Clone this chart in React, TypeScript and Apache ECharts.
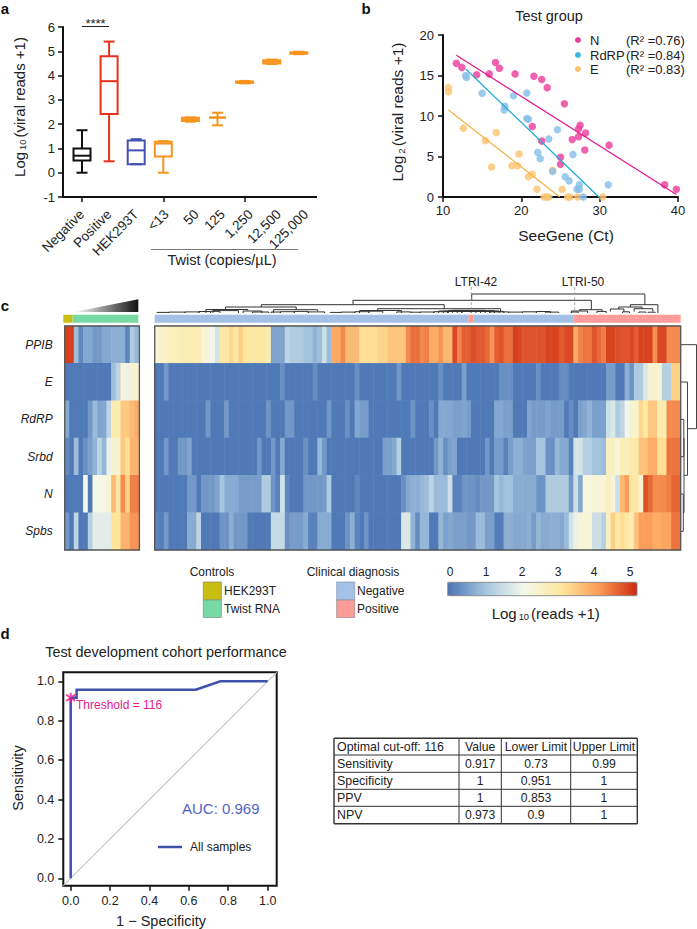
import React, { useEffect, useRef } from "react";
import * as echarts from "echarts";

const F = "Liberation Sans";

// Panel a
const boxCategories = ["Negative", "Positive", "HEK293T", "<13", "50", "125", "1,250", "12,500", "125,000"];
const boxLabelShift = [0, 0, 0, 3, 6, 5, 6, 7, 7];
const boxMin = [0, 0.47, 0.35, 0, 2.1, 1.95, 3.68, 4.48, 4.88];
const boxQ1 = [0.5, 2.42, 0.35, 0.67, 2.13, 2.27, 3.7, 4.5, 4.9];
const boxMedian = [0.7, 3.77, 0.92, 1.2, 2.2, 2.27, 3.73, 4.57, 4.93];
const boxQ3 = [1.0, 4.8, 1.33, 1.27, 2.26, 2.27, 3.76, 4.63, 4.96];
const boxMax = [1.75, 5.4, 1.38, 1.3, 2.28, 2.47, 3.78, 4.66, 4.98];
const boxColors = ["#111111", "#e5321b", "#4252b2", "#f7941d", "#f7941d", "#f7941d", "#f7941d", "#f7941d", "#f7941d"];

// Panel b
const ptsN = [[11.7,16.5],[12.4,16],[14.3,15.1],[15.9,15.2],[16.7,16.6],[17.2,15.9],[19.2,15.2],[21.6,14.9],[22.6,14.5],[23.3,13.5],[25.5,11.5],[21.4,8.7],[22.6,6.9],[25,4.9],[25,4.05],[26.5,7.1],[27.3,8.4],[27.5,8.85],[27.3,7.45],[28.2,7.9],[28.1,5.8],[31.2,6.4],[38.3,1.5],[39.8,0.95]];
const ptsRdRP = [[12.9,15],[13,14.75],[15,12.8],[17.9,11.2],[17.8,10.75],[19,12.5],[20.7,12.85],[20.7,9.7],[20.9,9.6],[24.6,8.3],[23.5,7.15],[22.1,5.5],[22.4,4.75],[24,3.15],[26.6,5.25],[25.6,2.5],[26.1,2],[27.4,1.5],[27.1,0.95],[27.4,0.95],[27.9,0],[31.1,1.5]];
const ptsE = [[10.7,13.5],[10.7,13],[12.6,8.5],[15.4,6.95],[16.8,7.95],[16.2,3.7],[19.7,5.3],[18.8,3.85],[19.5,3.85],[20.9,2.5],[21.4,2.8],[22,0.95],[24,3.3],[22.9,0],[23.2,0],[23.5,0],[25.2,0.95],[25.9,0],[26.2,0],[27.2,0],[30.4,0]];
const fitN = [[11.7,17.5],[39.8,0.3]];
const fitRdRP = [[12.9,15.8],[29.9,0]];
const fitE = [[10.7,10.75],[24.9,0]];
const scatterLegend = [["N","(R² =0.76)"],["RdRP","(R² =0.84)"],["E","(R² =0.83)"]];

// Panel c: [run length, log10 reads] per gene, read left to right
const genes = ["PPIB", "E", "RdRP", "Srbd", "N", "Spbs"];
const leftPPIB = [[2,5],[1,0.9],[1,0.2],[2,0.6],[2,0.4],[2,0.6],[3,0.7],[1,0.15],[1,1.1],[1,0.8]];
const leftE = [[10,0],[1,0.9],[1,1.3],[1,2.3],[1,1.9],[2,2.4]];
const leftRdRP = [[1,0.6],[4,0],[1,0.4],[1,0.85],[1,0.55],[1,0.6],[1,1.3],[2,2.8],[2,3.5],[1,3.7],[1,3.9]];
const leftSrbd = [[1,0.2],[1,0],[1,0.9],[1,0],[1,0.3],[1,0.5],[1,0.75],[1,1.3],[1,0.8],[1,1.9],[2,2.4],[1,3.5],[1,3.2],[2,3.8]];
const leftN = [[4,0],[1,2],[1,0],[3,2.1],[1,2.3],[1,3.7],[1,3],[1,4.3],[1,3.4],[2,4.4]];
const leftSpbs = [[1,0.4],[1,0],[1,1.3],[2,0],[1,1.2],[4,1.8],[2,3.1],[2,3.8],[2,4.2]];

const rightPPIB = [[1,2.3],[2,2.5],[3,2.7],[4,2.8],[2,2.3],[1,2],[1,1.6],[2,3],[1,3.3],[1,3.05],[1,3.4],[1,3.1],[4,3],[1,2.8],[3,0.55],[1,1.3],[3,1.1],[2,0.95],[1,0.75],[1,0.9],[1,1.5],[1,0.85],[2,3.95],[1,4.3],[3,3.7],[4,3.2],[2,3.35],[4,3.55],[1,4.3],[2,4.55],
  [1,4.3],[1,4.4],[2,3.9],[1,4.2],[2,3.75],[1,4.9],[1,4.35],[2,4.7],[1,4.85],[2,4.75],[1,4.6],[1,4.2],[1,4.7],[1,4.8],[2,4.55],[1,5],[1,4.9],[5,4.8],[3,4.95],[1,4.75],[2,4.9],[1,3.9],[1,4.35],[2,4.5],[1,4.8],[1,4.6],[1,4.4],[2,4.95],[1,4.85],[2,4.8],[1,4.9],[1,4.7],[3,4.95],[1,4.25],[2,4.9],[3,4.3]];
const rightE = [[2,0],[1,0.4],[24,0],[1,0.3],[6,0],[1,0.25],[8,0],[1,0.3],[8,0],[1,0.4],[8,0],[1,0.3],[4,0],[1,0.5],[7,0],[3,0.3],[5,0],[1,0.3],[4,0],[2,0.25],[8,0],[2,0.45],[2,0],[1,0.7],[1,0.35],[2,1.1],[1,1.7],[3,2.4],[2,1.2],[2,3.4]];
const rightRdRP = [[11,0],[1,0.4],[3,0],[1,0.4],[8,0],[1,0.35],[3,0],[2,0.4],[7,0],[1,0.4],[3,0],[1,0.3],[1,0],[1,0.6],[2,0.45],[9,0],[1,0.35],[3,0],[1,0.3],[1,0],[3,0.6],[2,0.5],[1,0.55],[1,0.45],[5,0],[2,0.6],[2,0.5],[3,0],[1,0.55],[3,0.45],[1,0.55],[3,0.45],[1,0],[1,0.25],[1,0],[1,0.5],[1,0.6],[1,0.75],[3,0.5],[1,1.5],[1,1.7],[1,1.1],[1,1.3],[1,2],[2,2.4],[1,3.3],[1,3],[2,3.5],[2,2.8],[3,4.3]];
const rightSrbd = [[2,0],[1,0.4],[2,0],[2,0.4],[1,0.55],[14,0],[1,0.4],[2,0],[1,0.4],[1,0],[1,0.6],[4,0],[1,0.3],[2,0],[1,0.8],[1,0.4],[12,0],[2,0.5],[1,0.6],[1,1.2],[7,0],[1,0.4],[1,0.75],[1,0.3],[1,0.5],[1,0.55],[6,0],[1,0.4],[1,0],[2,0.45],[1,0.1],[1,0.45],[2,0.7],[1,0.55],[2,0.5],[2,1],[2,0.3],[1,0.8],[2,0.6],[1,0.1],[2,1.6],[2,1.2],[2,0.95],[1,0.85],[2,2.6],[1,2.3],[2,2.7],[2,2.9],[2,3.6],[2,3.9],[2,3.2],[3,4.5]];
const rightN = [[7,0],[2,0.4],[1,0],[3,0.4],[1,0.55],[1,1],[3,0.65],[5,0.45],[2,1.1],[1,0.35],[1,0.1],[1,1.6],[1,0.2],[3,0],[4,0.4],[1,0.45],[1,1.1],[5,0],[1,0.2],[9,0],[1,0.3],[1,0.6],[2,0.7],[1,0.8],[1,0.9],[1,1.3],[3,0.85],[1,1.5],[2,0.1],[3,0.35],[1,0.25],[3,0.4],[1,1],[1,0.8],[2,0.95],[5,0.65],[2,0.35],[5,1.1],[1,0.4],[1,1.5],[1,0.6],[2,2.2],[3,2.3],[1,2.6],[1,2.3],[1,1.5],[1,3.7],[1,4.1],[2,3],[1,2.4],[1,4.85],[1,4.6],[3,4.3],[1,4.4],[2,4.65]];
const rightSpbs = [[1,0.15],[1,0.05],[1,0.4],[4,0],[2,0.65],[1,1.3],[4,0],[2,0.35],[1,0.7],[3,0.4],[5,0],[3,1.4],[1,0.3],[3,0.45],[1,0.65],[2,0.1],[3,0.65],[3,0],[1,0.35],[1,0.7],[1,0.15],[1,0],[1,0.35],[7,0],[2,1.7],[1,0.75],[1,0.25],[2,0.8],[2,0],[1,0.8],[1,0.5],[1,0.6],[3,0.5],[2,0.4],[2,0.85],[2,0.5],[2,0.05],[2,0.7],[3,0.6],[1,0.7],[1,0.45],[1,0.8],[2,0.65],[2,0.7],[1,0.6],[1,0.85],[1,1.6],[1,1.9],[3,2.3],[2,1.5],[1,1.2],[1,2.6],[1,3.4],[1,3],[1,3.2],[1,3],[1,2.8],[1,3.6],[3,4.1],[2,3.9],[2,4],[2,4.5]];

const leftRows = [leftPPIB, leftE, leftRdRP, leftSrbd, leftN, leftSpbs];
const rightRows = [rightPPIB, rightE, rightRdRP, rightSrbd, rightN, rightSpbs];
const leftAnnotation = [[0, 2, 0], [2, 16, 1]];
const rightAnnotation = [[0, 67.4, 2], [67.4, 68.4, 3], [68.4, 89.9, 2], [89.9, 113, 3]];
const annotationColors = ["#c9bf12", "#77d9a3", "#a4c0e7", "#fd9c98"];

// dendrogram links: [col a, col b, height, height under a, height under b]
const colLinks = [
  [68.1,105.3,19,12.7,8.3],[42.6,93.8,12.7,8.3,3.3],[22.9,62.2,8.3,6,4.3],[15.2,30.4,6,3.5,3.3],[47.9,74.3,4.3,2.5,2],
  [91.3,96.1,3.3,2,1.6],[102.2,108.1,8.3,6,0],[99.7,104.7,6,4,4.3],[97.9,100.8,4,1.5,1.2],[103,107,4.3,1.5,1.5],
  [0.5,3,0.6,0,0],[3,6.5,0.9,0,0],[6.5,9.5,1.1,0,0],[9.5,12,1.5,0,0],[12,14,1.7,0,0],[12.5,18,2.4,0,0],[11,20,3.5,0,2.4],[19,23,2,0,0],[21,24.5,1,0,0],[25,27,1,0,0],[27,30,1.3,0,0],[30,33,1.6,0,0],[25.5,35,3.3,0,1.6],[33,36.5,1.1,0,0],
  [37.7,40,0.6,0,0],[40,43,0.9,0,0],[43,46,1.3,0,0],[46,49,1.8,0,0],[44,53,2.5,0,0],[52,55,1.1,0,0],[55,57,0.8,0,0],[57,60,1,0,0],[60,63,1.3,0,0],[61,66,2,0,0],[62,70,1.8,0,0],[63,68,2.5,0,0],[63,72,1.5,0,0],[64,71,2.7,0,0],[65,73,2.3,0,0],[66,74,2,0,0],[69,75,1.6,0,0],[72,76,1.1,0,0],[76,79,0.9,0,0],[79,82,1.2,0,0],[82,85,1.5,0,0],[84,86.8,0.9,0,0],
  [89.5,93,2,0,0],[89.5,91,1,0,0],[95,97,1.6,0,0],[100.5,102,1.2,0,0],[104,105.5,1,0,0],[106,107.5,0.8,0,0],
];
const rowLinks = [[0,2.25,15.5,0,6.5],[1,3.5,6.5,0,3],[2.5,4.5,3,2.8,2.3],[2,3,2.8,0,0],[4,5,2.3,0,0]];
const colorbarTicks = [0, 1, 2, 3, 4, 5];

// Panel d
const rocPoints = [[0,0],[0,0.917],[0.03,0.917],[0.03,0.958],[0.635,0.958],[0.76,1],[1,1]];
const rocThreshold = [[0,0.917]];
const rocDiagonal = [[-0.0375,-0.0375],[1.046,1.046]];
const rocTicks = [0, 0.2, 0.4, 0.6, 0.8, 1];
const tableHeader = ["Optimal cut-off: 116", "Value", "Lower Limit", "Upper Limit"];
const tableRows = [
  ["Sensitivity", "0.917", "0.73", "0.99"],
  ["Specificity", "1", "0.951", "1"],
  ["PPV", "1", "0.853", "1"],
  ["NPV", "0.973", "0.9", "1"],
];

const expand = (row: number[][]) => row.flatMap(([n, v]) => Array(n).fill(v));
const cells = (rows: number[][][]) =>
  rows.flatMap((row, y) => expand(row).map((v, x) => [x, y, v]));
const range = (n: number) => Array.from({ length: n }, (_, i) => String(i));

const txt = (x: number, y: number, text: string, size: number, o: any = {}) => ({
  type: "text", x, y, z: 60, rotation: o.rot || 0, silent: true,
  style: {
    text, fontFamily: F, fontSize: size, fill: o.fill || "#222", textAlign: o.align || "center",
    textVerticalAlign: "middle", fontStyle: o.italic ? "italic" : "normal", fontWeight: o.bold ? "bold" : "normal",
    rich: o.rich,
  },
});
const seg = (x1: number, y1: number, x2: number, y2: number, stroke = "#222", lineWidth = 1, dash?: number[]) => ({
  type: "line", z: 55, silent: true, shape: { x1, y1, x2, y2 }, style: { stroke, lineWidth, lineDash: dash },
});
const box = (x: number, y: number, width: number, height: number, fill: string, stroke = "none", lineWidth = 1) => ({
  type: "rect", z: 55, silent: true, shape: { x, y, width, height }, style: { fill, stroke, lineWidth },
});
const subRich = (size: number) => ({
  a: { fontFamily: F, fontSize: size, fill: "#222" },
  s: { fontFamily: F, fontSize: size * 0.62, fill: "#222", verticalAlign: "bottom", padding: [size * 0.55, 2, 0, 2] },
});

function buildOption() {
  const hidden = { show: false };
  const grid = [
    { left: 68.45, top: 27, width: 243.9, height: 170 }, // 0 box
    { left: 443, top: 35, width: 235, height: 162 }, // 1 scatter
    { left: 64.7, top: 326, width: 74.7, height: 224 }, // 2 left heat
    { left: 154.7, top: 326, width: 526, height: 224 }, // 3 right heat
    { left: 154.7, top: 285, width: 526, height: 28 }, // 4 col dendro
    { left: 681, top: 326, width: 16, height: 224 }, // 5 row dendro
    { left: 63.3, top: 314.7, width: 75, height: 8 }, // 6 ann left
    { left: 154.7, top: 314.7, width: 526, height: 8 }, // 7 ann right
    { left: 63.3, top: 672.3, width: 213.4, height: 213.4, show: true, borderColor: "#111", borderWidth: 2 }, // 8 roc
  ];
  const axisLine = { show: true, lineStyle: { color: "#111", width: 2 } };
  const axisTick = { show: true, length: 5, lineStyle: { color: "#111", width: 1.5 } };
  const label = (s: number) => ({ fontFamily: F, fontSize: s, color: "#222" });
  const xAxis: any[] = [
    { gridIndex: 0, type: "category", data: boxCategories, axisLine: { show: false, onZero: false }, axisTick: { ...axisTick, alignWithLabel: true }, axisLabel: { show: false } },
    { gridIndex: 1, type: "value", min: 10, max: 40, interval: 10, splitLine: hidden, axisLine, axisTick, axisLabel: { ...label(13), margin: 7 } },
    { gridIndex: 2, type: "category", data: range(16), show: false },
    { gridIndex: 3, type: "category", data: range(113), show: false },
    { gridIndex: 4, type: "value", min: 0, max: 113, show: false },
    { gridIndex: 5, type: "value", min: 0, max: 16, show: false },
    { gridIndex: 6, type: "value", min: 0, max: 16, show: false },
    { gridIndex: 7, type: "value", min: 0, max: 113, show: false },
    { gridIndex: 8, type: "value", min: -0.0375, max: 1.046, splitLine: hidden, axisLine: { show: false, onZero: false },
      axisTick: { ...axisTick, customValues: rocTicks }, axisLabel: { ...label(12.5), margin: 9, customValues: rocTicks, formatter: (v: number) => v.toFixed(1) } },
  ];
  const yAxis: any[] = [
    { gridIndex: 0, type: "value", min: -1, max: 6, interval: 1, offset: 5.45, splitLine: hidden, axisLine, axisTick, axisLabel: { ...label(13), margin: 8 } },
    { gridIndex: 1, type: "value", min: 0, max: 20, interval: 5, splitLine: hidden, axisLine, axisTick, axisLabel: { ...label(13), margin: 9 } },
    { gridIndex: 2, type: "category", data: genes, inverse: true, axisLine: hidden, axisTick: hidden, axisLabel: { ...label(12), fontStyle: "italic", margin: 12 } },
    { gridIndex: 3, type: "category", data: genes, inverse: true, show: false },
    { gridIndex: 4, type: "value", min: 0, max: 28, show: false },
    { gridIndex: 5, type: "value", min: -0.5, max: 5.5, inverse: true, show: false },
    { gridIndex: 6, type: "value", min: 0, max: 1, show: false },
    { gridIndex: 7, type: "value", min: 0, max: 1, show: false },
    { gridIndex: 8, type: "value", min: -0.0375, max: 1.046, splitLine: hidden, axisLine: { show: false, onZero: false },
      axisTick: { ...axisTick, customValues: rocTicks }, axisLabel: { ...label(12.5), margin: 9, customValues: rocTicks, formatter: (v: number) => v.toFixed(1) } },
  ];

  const boxItem = (params: any, api: any) => {
    const i = api.value(0);
    const c = boxColors[params.dataIndex];
    const p = (v: number) => api.coord([i, v]);
    const x = p(0)[0];
    const [yMin, yQ1, yMed, yQ3, yMax] = [1, 2, 3, 4, 5].map((k) => p(api.value(k))[1]);
    const st = { stroke: c, lineWidth: 2, fill: "none" };
    const hw = 8.5, cap = 5.5;
    const l = (x1: number, y1: number, x2: number, y2: number) => ({ type: "line", shape: { x1, y1, x2, y2 }, style: st });
    return {
      type: "group",
      children: [
        l(x, yMax, x, yQ3), l(x, yQ1, x, yMin), l(x - cap, yMax, x + cap, yMax), l(x - cap, yMin, x + cap, yMin),
        { type: "rect", shape: { x: x - hw, y: yQ3, width: 2 * hw, height: yQ1 - yQ3 }, style: st },
        l(x - hw, yMed, x + hw, yMed),
      ],
    };
  };
  const tree = (horizontal: boolean, stroke: string) => (_: any, api: any) => {
    const [a, b, h, ha, hb] = [0, 1, 2, 3, 4].map((k) => api.value(k));
    const pt = (pos: number, ht: number) => api.coord(horizontal ? [pos, ht] : [ht, pos]);
    return {
      type: "polyline",
      shape: { points: [pt(a, ha), pt(a, h), pt(b, h), pt(b, hb)] },
      style: { stroke, fill: "none", lineWidth: 1 },
    };
  };
  const annotation = (_: any, api: any) => {
    const s = api.coord([api.value(0), 1]);
    const e = api.coord([api.value(1), 0]);
    return { type: "rect", shape: { x: s[0], y: s[1], width: e[0] - s[0], height: e[1] - s[1] }, style: { fill: annotationColors[api.value(2)] } };
  };
  const scatter = (data: number[][], color: string) => ({
    type: "scatter", xAxisIndex: 1, yAxisIndex: 1, data, symbolSize: 7.5, clip: false, z: 3, itemStyle: { color, opacity: 0.82 },
  });
  const fit = (data: number[][], color: string) => ({
    type: "line", xAxisIndex: 1, yAxisIndex: 1, data, showSymbol: false, clip: false, z: 4, lineStyle: { color, width: 1.2 },
  });
  const heat = (i: number, rows: number[][][]) => ({
    type: "heatmap", xAxisIndex: i, yAxisIndex: i, data: cells(rows), progressive: 0, silent: true, itemStyle: { borderWidth: 0 },
  });

  const series: any[] = [
    heat(2, leftRows),
    heat(3, rightRows),
    { type: "custom", xAxisIndex: 0, yAxisIndex: 0, clip: false, renderItem: boxItem, encode: { x: 0, y: [1, 2, 3, 4, 5] },
      data: boxCategories.map((_, i) => [i, boxMin[i], boxQ1[i], boxMedian[i], boxQ3[i], boxMax[i]]) },
    scatter(ptsE, "#fbc673"), scatter(ptsRdRP, "#86bfe8"), scatter(ptsN, "#ea3f9c"),
    fit(fitN, "#e5188f"), fit(fitRdRP, "#1fa9d8"), fit(fitE, "#f8b03e"),
    { type: "custom", xAxisIndex: 4, yAxisIndex: 4, clip: false, renderItem: tree(true, "#333"), data: colLinks, encode: { x: [0, 1], y: 2 } },
    { type: "custom", xAxisIndex: 5, yAxisIndex: 5, clip: false, renderItem: tree(false, "#444"), data: rowLinks, encode: { x: 2, y: [0, 1] } },
    { type: "custom", xAxisIndex: 6, yAxisIndex: 6, renderItem: annotation, data: leftAnnotation, encode: { x: [0, 1] } },
    { type: "custom", xAxisIndex: 7, yAxisIndex: 7, renderItem: annotation, data: rightAnnotation, encode: { x: [0, 1] } },
    { type: "line", xAxisIndex: 8, yAxisIndex: 8, data: rocDiagonal, showSymbol: false, z: 2, lineStyle: { color: "#c4c4c4", width: 1.1 } },
    { type: "line", xAxisIndex: 8, yAxisIndex: 8, data: rocPoints, showSymbol: false, z: 3, lineStyle: { color: "#3f50ad", width: 2.5, join: "miter" } },
    { type: "scatter", xAxisIndex: 8, yAxisIndex: 8, data: rocThreshold, z: 5, symbolSize: 10,
      symbol: "path://M-2 -10H2V10H-2Z M-10 -4.5L-8 -8L10 4.5L8 8Z M-10 4.5L-8 8L10 -4.5L8 -8Z", itemStyle: { color: "#e6198f" } },
  ];

  const tableX = [334, 459, 501.3, 570.7, 637.3];
  const tableY = [738.3, 755, 772.3, 789.3, 806.3, 823.7];
  const table: any[] = [];
  tableY.forEach((y, i) => table.push(seg(tableX[0], y, tableX[4], y, "#333", i === 0 || i === 5 ? 1.4 : 1)));
  tableX.forEach((x, i) => table.push(seg(x, tableY[0], x, tableY[5], "#333", i === 0 || i === 4 ? 1.4 : 1)));
  [tableHeader, ...tableRows].forEach((row, r) => {
    const yc = (tableY[r] + tableY[r + 1]) / 2;
    row.forEach((t, c) => {
      table.push(c === 0 ? txt(tableX[0] + 3, yc, t, 12.4, { align: "left" }) : txt((tableX[c] + tableX[c + 1]) / 2, yc, t, 12.2));
    });
  });

  const legendColors = ["#ea3f9c", "#3fb6e2", "#fbc673"];
  const elements: any[] = [
    txt(5, 8, "a", 15, { bold: true, fill: "#111" }),
    txt(366, 8, "b", 15, { bold: true, fill: "#111" }),
    txt(5, 305, "c", 15, { bold: true, fill: "#111" }),
    txt(5, 633, "d", 15, { bold: true, fill: "#111" }),
    seg(63, 197, 317, 197, "#111", 2),
    seg(82, 26.5, 109, 26.5, "#222", 1),
    txt(95.5, 23, "****", 13),
    ...boxCategories.map((c, i) => txt(82 + 27.1 * i + boxLabelShift[i], 212, c, 13.5, { align: "right", rot: Math.PI / 4 })),
    txt(19, 107, "{a|Log}{s|10}{a|(viral reads +1)}", 15, { rot: Math.PI / 2, rich: subRich(15) }),
    seg(151, 249.5, 298, 249.5, "#777", 1),
    txt(222, 260, "Twist (copies/µL)", 14.5),
    txt(549, 16, "Test group", 14.5),
    txt(397, 112, "{a|Log}{s|2}{a|(viral reads +1)}", 15.5, { rot: Math.PI / 2, rich: subRich(15.5) }),
    txt(566, 235, "SeeGene (Ct)", 15.5),
    ...scatterLegend.flatMap(([n, r], i) => {
      const y = [40, 55, 69][i];
      return [
        { type: "circle", z: 55, silent: true, shape: { cx: 578, cy: y, r: 3 }, style: { fill: legendColors[i] } },
        txt(590, y, n, 13, { align: "left" }),
        txt(626, y, r, 13, { align: "left" }),
      ];
    }),
    txt(476, 281.7, "LTRI-42", 12),
    txt(583, 281.7, "LTRI-50", 12),
    seg(471.3, 287, 471.3, 313, "#999", 0.8, [3, 2]),
    seg(574.7, 287, 574.7, 313, "#999", 0.8, [3, 2]),
    { type: "polygon", z: 55, silent: true, shape: { points: [[74, 312], [138.3, 299.3], [138.3, 312]] },
      style: { fill: new echarts.graphic.LinearGradient(0, 0, 1, 0, [{ offset: 0, color: "#ffffff" }, { offset: 1, color: "#111111" }]) } },
    box(64.7, 326, 74.7, 224, "none", "#555", 1.3),
    box(154.7, 326, 526, 224, "none", "#555", 1.3),
    txt(212, 572, "Controls", 12),
    txt(353, 572, "Clinical diagnosis", 12),
    box(203.3, 582, 18, 18, "#c9bf12", "#8f8f6a", 0.8),
    box(203.3, 600, 18, 17.5, "#77d9a3", "#7f9f8f", 0.8),
    box(336.7, 582, 18, 18, "#a4c0e7", "#8f9fb2", 0.8),
    box(336.7, 600, 18, 17.5, "#fd9c98", "#a08f8f", 0.8),
    txt(224, 591, "HEK293T", 12, { align: "left" }),
    txt(224, 609, "Twist RNA", 12, { align: "left" }),
    txt(357, 591, "Negative", 12, { align: "left" }),
    txt(357, 609, "Positive", 12, { align: "left" }),
    box(447.7, 582.3, 189.3, 13.4, "none", "#777", 0.8),
    ...colorbarTicks.map((t) => txt(450 + 36 * t, 572, String(t), 12)),
    txt(545.7, 613, "{a|Log}{s|10}{a|(reads +1)}", 15, { rich: subRich(15) }),
    txt(166, 652, "Test development cohort performance", 14.4),
    txt(18, 778, "Sensitivity", 14.5, { rot: Math.PI / 2 }),
    txt(161, 921, "1 − Specificity", 14.5),
    txt(76, 705, "Threshold = 116", 12, { align: "left", fill: "#e6198f" }),
    txt(182, 808, "AUC: 0.969", 15, { align: "left", fill: "#5564c4" }),
    seg(158, 847, 182, 847, "#3f50ad", 2.5),
    txt(190, 847, "All samples", 12, { align: "left" }),
    ...table,
  ];

  return {
    animation: false,
    backgroundColor: "#fff",
    grid, xAxis, yAxis, series,
    visualMap: {
      type: "continuous", seriesIndex: [0, 1], dimension: 2, min: -0.07, max: 5.19, orient: "horizontal",
      left: 447.7, top: 582.3, itemWidth: 13.4, itemHeight: 189.3, calculable: false, hoverLink: false, text: undefined, padding: 0, showLabel: false,
      textStyle: { fontSize: 0, color: "transparent" }, formatter: () => "",
      inRange: { color: ["#4a74b4", "#a5c5df", "#f4f9ec", "#fee79c", "#fb9b58", "#cf2a10"] },
    },
    graphic: { elements },
  };
}

export default function App() {
  const ref = useRef<HTMLDivElement>(null);
  useEffect(() => {
    const chart = echarts.init(ref.current!, undefined, { renderer: "svg" });
    chart.setOption(buildOption() as any);
    return () => chart.dispose();
  }, []);
  return <div ref={ref} style={{ position: "fixed", left: 0, top: 0, width: 697, height: 929, background: "#fff" }} />;
}
